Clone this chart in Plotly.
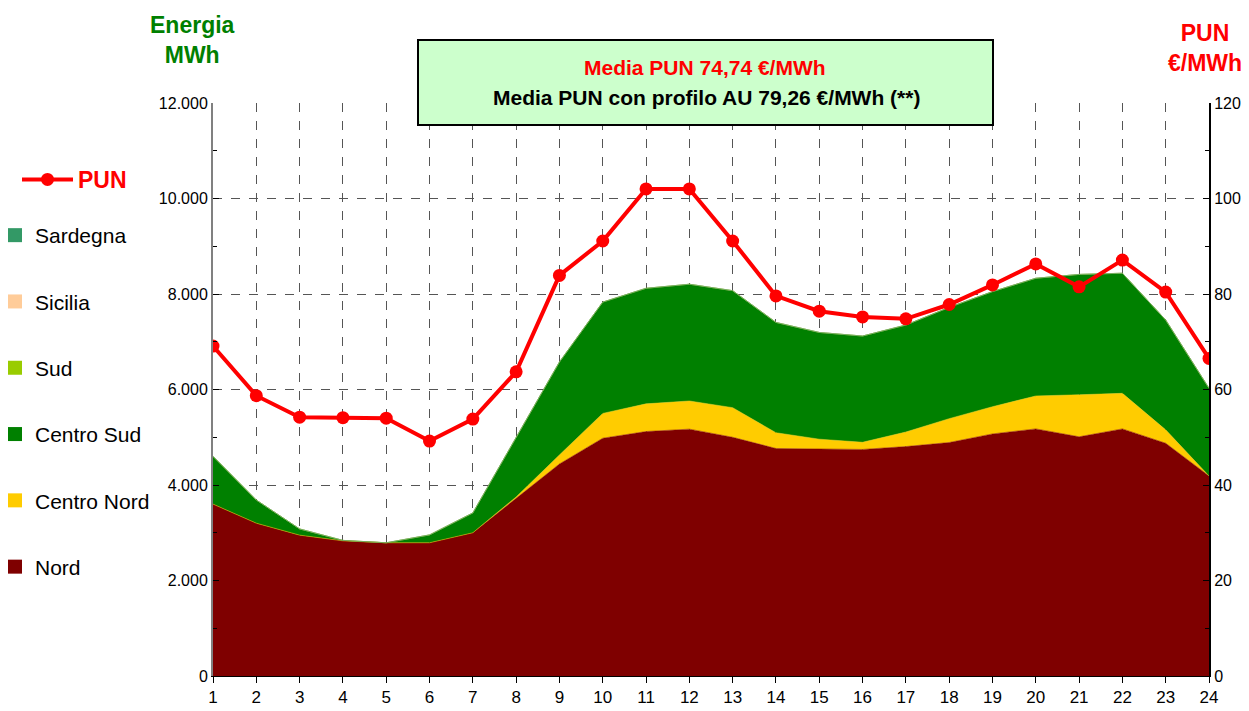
import plotly.graph_objects as go

hours = list(range(1, 25))
nord = [3600, 3200, 2950, 2830, 2790, 2790, 3000, 3720, 4440, 4980, 5120, 5170,
        5000, 4765, 4760, 4745, 4805, 4890, 5070, 5175, 5010, 5175, 4875, 4190]
centro_nord = [0, 0, 0, 0, 0, 0, 0, 30, 190, 520, 580, 590,
               620, 330, 200, 150, 305, 500, 570, 690, 880, 745, 280, 0]
centro_sud = [1000, 485, 130, 10, 0, 165, 415, 1235, 1945, 2330, 2420, 2445,
              2450, 2310, 2235, 2225, 2240, 2330, 2410, 2465, 2520, 2515, 2300, 1835]
sud = [0] * 24
sicilia = [0] * 24
sardegna = [0] * 24
pun = [69.1, 58.7, 54.2, 54.1, 54.0, 49.2, 53.8, 63.7, 83.9, 91.1, 102.0, 102.0,
       91.1, 79.6, 76.4, 75.2, 74.8, 77.8, 81.9, 86.3, 81.5, 87.1, 80.4, 66.5]

zones = [("Nord", nord, "#7F0000"),
         ("Centro Nord", centro_nord, "#FFCC00"),
         ("Centro Sud", centro_sud, "#008000"),
         ("Sud", sud, "#99CC00"),
         ("Sicilia", sicilia, "#FFCC99"),
         ("Sardegna", sardegna, "#339966")]

FONT = "Liberation Sans, Arial, sans-serif"
OFF = 8  # page body margin
W, H = 1249 - OFF, 711 - OFF
L, R, T, B = 213 - OFF, 1209 - OFF, 103 - OFF, 676 - OFF


def px(x):  # screen px -> paper x
    return (x - OFF - L) / (R - L)


def py(y):  # screen px -> paper y
    return (B - (y - OFF)) / (B - T)


fig = go.Figure()
for name, vals, col in zones:
    fig.add_trace(go.Scatter(x=hours, y=vals, name=name, stackgroup="e",
                             mode="lines", line=dict(width=0.5, color=col),
                             fillcolor=col, showlegend=False))
# legend entries (square symbols), top to bottom: Sardegna ... Nord
for name, vals, col in reversed(zones):
    fig.add_trace(go.Scatter(x=[None], y=[None], name=name, mode="markers",
                             marker=dict(symbol="square", size=14, color=col),
                             legend="legend2", legendgroup=name))

fig.add_trace(go.Scatter(x=hours, y=pun, name="PUN", yaxis="y2",
                         mode="lines+markers",
                         line=dict(color="#FF0000", width=4),
                         marker=dict(color="#FF0000", size=13),
                         legend="legend"))

grid = dict(showgrid=True, gridcolor="#555555", griddash="dash", gridwidth=1)
fig.update_layout(
    width=W, height=H, autosize=False,
    margin=dict(l=L, r=W - R, t=T, b=H - B, autoexpand=False),
    paper_bgcolor="white", plot_bgcolor="white",
    separators=",.",
    font=dict(family=FONT, size=16, color="black"),
    xaxis=dict(range=[1, 24], dtick=1, tick0=1, ticks="outside", ticklen=6,
               tickcolor="black", showline=True, linecolor="black",
               tickfont=dict(size=17), zeroline=False, automargin=False, **grid),
    yaxis=dict(range=[0, 12000], dtick=2000, tickformat=",d", ticks="inside",
               ticklen=6, tickcolor="black", showline=True, linecolor="#808080",
               linewidth=2, zeroline=False, automargin=False,
               minor=dict(dtick=1000, ticks="inside", ticklen=4, tickcolor="black",
                          showgrid=False),
               **grid),
    yaxis2=dict(range=[0, 120], dtick=20, overlaying="y", side="right",
                ticks="inside", ticklen=6, tickcolor="black", showline=True,
                linecolor="black", linewidth=2, showgrid=False, zeroline=False,
                automargin=False,
                minor=dict(dtick=10, ticks="inside", ticklen=4, tickcolor="black")),
    legend=dict(xref="paper", yref="paper", x=px(17), y=py(158),
                xanchor="left", yanchor="top",
                font=dict(size=23, color="#FF0000", family=FONT, weight="bold"),
                bgcolor="rgba(0,0,0,0)", itemwidth=51),
    legend2=dict(xref="paper", yref="paper", x=px(-5), y=py(215),
                 xanchor="left", yanchor="top",
                 font=dict(size=21, color="black", family=FONT),
                 traceorder="grouped", tracegroupgap=36,
                 bgcolor="rgba(0,0,0,0)", itemwidth=30),
    shapes=[dict(type="rect", xref="paper", yref="paper",
                 x0=px(418), x1=px(993), y0=py(125), y1=py(40),
                 fillcolor="#CCFFCC", line=dict(color="black", width=2),
                 layer="above")],
    annotations=[
        dict(text="<b>Media PUN 74,74 €/MWh</b>", xref="paper", yref="paper",
             x=px(705), y=py(68), xanchor="center", yanchor="middle",
             showarrow=False, font=dict(size=21, color="#FF0000")),
        dict(text="<b>Media PUN con profilo AU 79,26 €/MWh (**)</b>",
             xref="paper", yref="paper", x=px(706), y=py(97),
             xanchor="center", yanchor="middle", showarrow=False,
             font=dict(size=21, color="black")),
        dict(text="<b>Energia<br>MWh</b>", xref="paper", yref="paper",
             x=px(192), y=py(40), xanchor="center", yanchor="middle",
             showarrow=False, align="center",
             font=dict(size=23, color="#008000")),
        dict(text="<b>PUN<br>€/MWh</b>", xref="paper", yref="paper",
             x=px(1205), y=py(48), xanchor="center", yanchor="middle",
             showarrow=False, align="center",
             font=dict(size=23, color="#FF0000")),
    ],
)

fig.write_html("out.html")
